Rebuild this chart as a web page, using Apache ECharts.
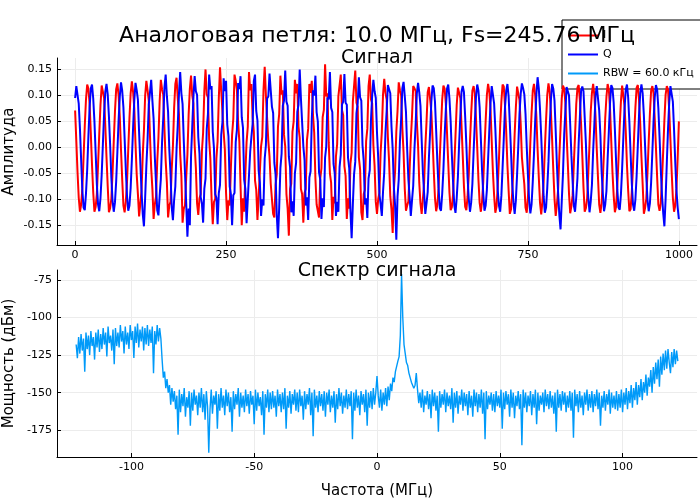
<!DOCTYPE html>
<html>
<head>
<meta charset="utf-8">
<title>Аналоговая петля</title>
<script src="https://cdn.jsdelivr.net/npm/echarts@6/dist/echarts.min.js"></script>
<style>
  html, body { margin: 0; padding: 0; background: #fff; }
  #chart { width: 700px; height: 500px; }
</style>
</head>
<body>
<div id="chart"></div>
<script>
// заголовки
const mainTitle = 'Аналоговая петля: 10.0 МГц, Fs=245.76 МГц';
const signalTitle = 'Сигнал';
const spectrumTitle = 'Спектр сигнала';
const seriesNames = ['I', 'Q', 'RBW = 60.0 кГц'];

// отсчёты сигнала, каждый второй отсчёт (0..1000)
const sampleStep = 2;

const iSignal = [
  0.071,0.012,-0.048,-0.097,-0.124,-0.110,-0.079,-0.019,0.041,0.092,
  0.121,0.113,0.084,0.027,-0.034,-0.087,-0.124,-0.115,-0.090,-0.034,
  0.026,0.081,0.119,0.116,0.095,0.041,-0.019,-0.075,-0.125,-0.117,
  -0.099,-0.049,0.011,0.069,0.112,0.123,0.100,0.059,-0.004,-0.062,
  -0.112,-0.125,-0.104,-0.066,-0.004,0.056,0.104,0.127,0.107,
  0.076,0.008,-0.052,-0.090,-0.133,-0.108,-0.084,-0.015,0.033,0.099,
  0.128,0.110,0.090,0.022,-0.040,-0.080,-0.138,-0.110,-0.095,-0.028,
  0.018,0.088,0.130,0.112,0.101,0.035,-0.026,-0.068,-0.135,-0.112,
  -0.105,-0.042,0.002,0.076,0.122,0.134,0.094,0.064,-0.012,-0.055,
  -0.145,-0.118,-0.112,-0.058,-0.014,0.062,0.112,0.138,0.100,
  0.084,0.004,-0.040,-0.108,-0.130,-0.098,-0.090,-0.008,0.028,0.108,
  0.150,0.102,0.096,0.015,-0.022,-0.098,-0.148,-0.105,-0.100,-0.022,
  0.012,0.095,0.154,0.108,0.106,0.030,-0.004,-0.088,-0.140,-0.102,
  -0.112,-0.040,0.024,0.055,0.140,0.128,0.110,0.048,0.012,-0.075,
  -0.150,-0.098,-0.124,-0.050,0.010,0.040,0.145,0.110,0.122,
  0.058,0.030,-0.064,-0.082,-0.140,-0.095,-0.098,0.002,0.020,0.110,
  0.155,0.100,0.100,0.012,-0.018,-0.070,
  -0.100,-0.128,-0.135,-0.072,-0.052,
  0.040,0.064,0.138,0.102,0.110,0.024,0.002,-0.090,-0.118,-0.170,
  -0.080,-0.070,0.030,0.050,0.130,0.104,0.122,0.040,0.018,-0.080,
  -0.090,-0.145,-0.088,-0.080,0.014,0.036,0.122,0.105,0.128,
  0.062,0.028,-0.060,-0.110,-0.108,-0.135,-0.060,-0.040,0.058,0.072,
  0.160,0.098,0.104,0.010,-0.050,-0.068,-0.140,-0.095,-0.108,-0.018,
  0.006,0.098,0.098,0.140,0.072,0.062,-0.036,-0.055,-0.138,-0.098,
  -0.118,-0.032,-0.010,0.088,0.090,0.148,0.086,0.078,-0.020,-0.042,
  -0.125,-0.140,-0.090,-0.082,0.012,0.036,0.118,0.140,0.092,
  0.085,0.004,-0.036,-0.105,-0.128,-0.100,-0.088,-0.010,0.030,0.102,
  0.132,0.105,0.092,0.020,-0.026,-0.094,-0.120,-0.165,-0.080,-0.045,
  0.030,0.070,0.125,0.110,0.100,0.036,-0.010,-0.080,-0.122,-0.112,
  -0.104,-0.044,0.015,0.060,0.118,0.114,0.108,0.050,0.004,-0.068,
  -0.108,-0.128,-0.100,-0.070,0.000,0.048,0.106,0.116,0.114,
  0.069,0.016,-0.044,-0.097,-0.123,-0.110,-0.079,-0.019,0.037,0.092,
  0.119,0.113,0.084,0.027,-0.030,-0.087,-0.121,-0.115,-0.090,-0.034,
  0.022,0.081,0.115,0.116,0.095,0.041,-0.015,-0.075,-0.114,-0.121,
  -0.095,-0.053,0.011,0.065,0.109,0.118,0.104,0.055,0.000,-0.062,
  -0.107,-0.124,-0.104,-0.066,-0.004,0.052,0.101,0.122,0.107,
  0.073,0.012,-0.048,-0.093,-0.126,-0.114,-0.075,-0.023,0.041,0.088,
  0.121,0.117,0.080,0.031,-0.034,-0.083,-0.128,-0.119,-0.086,-0.038,
  0.026,0.077,0.117,0.120,0.091,0.045,-0.019,-0.046,
  -0.071,-0.116,-0.126,
  -0.095,-0.053,0.011,0.065,0.109,0.122,0.100,0.059,-0.004,-0.058,
  -0.107,-0.129,-0.104,-0.066,-0.004,0.052,0.101,0.123,0.107,
  0.069,0.016,-0.044,-0.099,-0.132,-0.110,-0.081,-0.017,0.037,0.094,
  0.119,0.113,0.086,0.025,-0.030,-0.089,-0.127,-0.113,-0.092,-0.032,
  0.022,0.083,0.115,0.120,0.091,0.045,-0.015,-0.077,-0.124,-0.117,
  -0.099,-0.049,0.007,0.069,0.105,0.122,0.100,0.059,-0.004,-0.058,
  -0.110,-0.126,-0.108,-0.062,-0.008,0.056,0.097,0.122,0.111,
  0.073,0.012,-0.048,-0.093,-0.125,-0.114,-0.075,-0.023,0.041,0.088,
  0.119,0.117,0.080,0.031,-0.034,-0.083,-0.123,-0.119,-0.086,-0.038,
  0.026,0.077,0.115,0.120,0.091,0.045,-0.019,-0.071,-0.128,-0.117,
  -0.099,-0.049,0.011,0.065,0.109,0.118,0.104,0.055,0.000,-0.058,
  -0.110,-0.122,-0.108,-0.062,-0.008,0.052,0.101,0.118,0.111,
  0.071,0.014,-0.046,-0.097,-0.124,-0.112,-0.079,-0.021,0.050
];

const qSignal = [
  0.095,0.118,0.117,0.084,0.036,-0.025,-0.083,-0.116,-0.121,-0.089,
  -0.043,0.021,0.077,0.113,0.121,0.094,0.050,-0.010,-0.071,-0.110,
  -0.123,-0.098,-0.053,0.006,0.064,0.107,0.122,0.102,0.060,0.005,
  -0.058,-0.103,-0.124,-0.106,-0.066,-0.009,0.051,0.098,0.125,0.109,
  0.077,0.017,-0.044,-0.094,-0.122,-0.112,-0.078,-0.024,0.037,
  0.090,0.124,0.110,0.092,0.028,-0.030,-0.084,-0.128,-0.152,-0.097,
  -0.036,0.014,0.082,0.106,0.130,0.090,0.055,-0.018,-0.070,-0.121,
  -0.131,-0.094,-0.061,0.010,0.057,0.116,0.140,0.098,0.068,-0.004,
  -0.050,-0.115,-0.140,-0.101,-0.075,-0.004,0.043,0.103,0.145,0.104,
  0.083,0.012,-0.050,-0.108,-0.172,-0.118,-0.150,-0.018,0.040,
  0.098,0.137,0.108,0.101,0.020,-0.012,-0.096,-0.108,-0.145,-0.080,
  -0.060,0.035,0.064,0.140,0.112,0.118,0.030,-0.002,-0.090,-0.097,
  -0.148,-0.088,-0.072,0.024,0.048,0.133,0.108,0.128,0.044,0.021,
  -0.075,-0.090,-0.150,-0.092,-0.088,0.010,0.034,0.124,0.112,0.137,
  0.058,0.038,-0.062,-0.080,-0.146,-0.100,-0.098,-0.008,0.020,
  0.045,0.128,0.140,0.070,0.052,-0.045,-0.068,-0.132,-0.100,-0.112,
  -0.022,0.004,0.094,0.098,0.142,0.110,
  0.078,0.066,-0.030,-0.052,-0.130,
  -0.175,-0.116,-0.040,-0.012,0.080,0.090,0.148,0.088,0.080,-0.018,
  -0.038,-0.125,-0.104,-0.132,-0.050,-0.030,0.068,0.082,0.150,0.094,
  0.092,0.002,-0.024,-0.112,-0.096,-0.140,-0.058,-0.046,0.054,
  0.110,0.100,0.138,0.068,0.050,-0.048,-0.062,-0.138,-0.098,-0.115,
  -0.020,0.002,0.096,0.092,0.145,0.076,0.068,-0.032,-0.050,-0.132,
  -0.105,-0.124,-0.038,-0.014,0.082,0.088,0.141,0.086,0.082,-0.020,
  -0.040,-0.122,-0.175,-0.110,-0.052,-0.028,0.066,0.084,0.135,0.096,
  0.090,0.004,-0.026,-0.110,-0.098,-0.136,-0.060,-0.044,0.052,
  0.100,0.130,0.108,0.095,0.028,-0.020,-0.090,-0.110,-0.132,-0.085,
  -0.048,0.028,0.070,0.120,0.112,0.104,0.040,-0.004,-0.078,-0.112,
  -0.178,-0.095,-0.062,0.012,0.055,0.114,0.126,0.098,0.068,-0.004,
  -0.062,-0.095,-0.132,-0.102,-0.074,-0.004,0.044,0.104,0.124,0.106,
  0.080,0.014,-0.048,-0.088,-0.128,-0.108,-0.086,-0.020,0.030,
  0.088,0.119,0.114,0.088,0.032,-0.029,-0.079,-0.117,-0.122,-0.089,
  -0.043,0.021,0.073,0.113,0.121,0.094,0.050,-0.014,-0.067,-0.111,
  -0.126,-0.098,-0.057,0.006,0.060,0.107,0.118,0.106,0.060,0.005,
  -0.058,-0.099,-0.124,-0.106,-0.070,-0.009,0.047,0.098,0.121,0.109,
  0.077,0.017,-0.044,-0.090,-0.122,-0.112,-0.082,-0.024,0.033,
  0.084,0.118,0.119,0.084,0.036,-0.025,-0.083,-0.112,-0.124,-0.093,
  -0.039,0.017,0.077,0.109,0.122,0.098,0.046,-0.010,-0.071,-0.106,
  -0.128,-0.102,-0.053,0.002,0.064,0.103,0.123,0.114,
  0.102,0.064,0.001,
  -0.054,-0.103,-0.127,-0.110,-0.066,-0.013,0.051,0.102,0.135,0.113,
  0.073,0.021,-0.040,-0.094,-0.126,-0.116,-0.078,-0.028,0.037,
  0.090,0.122,0.113,0.090,0.030,-0.035,-0.088,-0.130,-0.158,-0.104,
  -0.052,0.024,0.070,0.116,0.117,0.100,0.044,-0.016,-0.066,-0.112,
  -0.124,-0.096,-0.059,0.008,0.058,0.109,0.117,0.108,0.058,0.007,
  -0.060,-0.097,-0.125,-0.104,-0.072,-0.007,0.045,0.100,0.118,0.115,
  0.071,0.023,-0.046,-0.088,-0.123,-0.110,-0.084,-0.022,0.031,
  0.086,0.120,0.114,0.086,0.034,-0.027,-0.081,-0.116,-0.120,-0.091,
  -0.041,0.019,0.075,0.111,0.121,0.096,0.048,-0.012,-0.069,-0.110,
  -0.122,-0.100,-0.055,0.004,0.062,0.105,0.121,0.104,0.062,0.003,
  -0.056,-0.101,-0.123,-0.108,-0.068,-0.011,0.049,0.096,0.120,0.111,
  0.075,0.019,-0.042,-0.092,-0.126,-0.152,-0.100,-0.030,0.035,
  0.086,0.118,0.116,0.088,0.034,-0.029,-0.083,-0.116,-0.138
];

// спектр: частоты от -122.5 МГц с шагом 0.5 МГц, мощность в дБм
const freqStart = -122.5;
const freqStep = 0.5;
const spectrumDbm = [
  -118,-127,-113,-124,-111,-122,-114,-136,-110,-121,-112,-125,-109,-119,-113,-128,-110,-120,-108,-123,
  -111,-121,-107,-118,-110,-126,-106,-117,-112,-122,-108,-131,-107,-119,-110,-120,-105,-116,-109,-124,
  -106,-118,-110,-121,-105,-115,-109,-127,-106,-117,-104,-120,-108,-116,-106,-122,-107,-118,-105,-119,
  -108,-117,-106,-137,-109,-118,-105,-116,-107,-114,
  -128,-140,-136,-147,-141,-150,-145,-158,-147,-156,
  -149,-161,-152,-178,-148,-163,-151,-159,-147,-166,-153,-160,-149,-172,-150,-162,-148,-158,-152,-165,
  -150,-160,-147,-163,-151,-168,-149,-159,-190,-161,-148,-164,-152,-158,-149,-174,-151,-162,-147,-160,
  -152,-165,-148,-159,-150,-163,-153,-176,-149,-161,-151,-158,-147,-166,-150,-160,-152,-163,-148,-159,
  -151,-164,-149,-158,-152,-171,-148,-162,-150,-159,-153,-165,-149,-178,-151,-160,-148,-163,-150,-161,
  -149,-160,-152,-166,-148,-159,-151,-163,-150,-161,-147,-174,-152,-160,-149,-164,-151,-158,-148,-162,
  -150,-163,-148,-159,-152,-168,-149,-161,-151,-158,-147,-165,-150,-179,-148,-160,-152,-163,-149,-159,
  -151,-162,-149,-166,-150,-158,-148,-163,-152,-160,-149,-170,-151,-161,-147,-159,-150,-164,-152,-160,
  -148,-161,-151,-159,-149,-181,-150,-162,-148,-160,-152,-165,-149,-158,-151,-163,-148,-172,-150,-160,
  -149,-161,-147,-158,-150,-139,-152,-160,-148,-162,-150,-158,-147,-159,-146,-155,-144,-149,-140,-143,
  -136,-137,-129,-126,-112,-71,-100,-118,-124,-130,-132,-137,-138,-143,-142,-147,-145,-137,-148,-157,
  -150,-160,-148,-163,-152,-158,-149,-161,-151,-167,-148,-159,-150,-162,-152,-176,-149,-160,-151,-158,
  -148,-163,-150,-159,-152,-161,-147,-170,-150,-160,-149,-164,-152,-158,-148,-162,-150,-159,-151,-165,
  -149,-160,-152,-166,-148,-159,-150,-163,-151,-160,-148,-164,-150,-181,-149,-161,-152,-158,-150,-162,
  -151,-163,-149,-159,-152,-160,-148,-174,-150,-161,-149,-158,-151,-166,-148,-160,-150,-167,-152,-159,
  -149,-161,-151,-185,-148,-160,-150,-163,-152,-159,-149,-165,-151,-160,-148,-171,-150,-162,-152,-158,
  -150,-163,-148,-159,-151,-161,-149,-160,-152,-164,-150,-176,-148,-160,-151,-162,-149,-158,-150,-163,
  -152,-160,-149,-162,-150,-180,-148,-159,-151,-163,-149,-160,-152,-165,-150,-158,-148,-162,-151,-160,
  -149,-163,-151,-159,-148,-161,-150,-172,-152,-160,-149,-162,-151,-158,-148,-164,-150,-160,-152,-161,
  -149,-162,-151,-160,-148,-163,-150,-158,-147,-161,-149,-157,-145,-160,-147,-155,-143,-158,-145,-153,
  -141,-155,-143,-150,-138,-152,-140,-146,-135,-150,-133,-144,-130,-141,-128,-146,-126,-138,-124,-135,
  -122,-134,-121,-130,-137,-123,-133,-121,-131,-122,-129
];

// деления осей
const signalTicksX = [0, 250, 500, 750, 1000];
const signalTicksY = [-0.15, -0.10, -0.05, 0.00, 0.05, 0.10, 0.15];
const freqTicks = [-100, -50, 0, 50, 100];
const powerTicks = [-175, -150, -125, -100, -75];

const font = 'DejaVu Sans';
const chart = echarts.init(document.getElementById('chart'));

function makeAxis(gridIndex, min, max, ticks, fmt, name, nameGap) {
  return {
    type: 'value',
    gridIndex: gridIndex,
    min: min,
    max: max,
    name: name,
    nameLocation: 'middle',
    nameGap: nameGap,
    nameMoveOverlap: false,
    nameTextStyle: { fontFamily: font, fontSize: 15, color: '#000' },
    axisLine: { show: true, onZero: false, lineStyle: { color: '#000', width: 1 } },
    axisTick: { show: true, inside: true, length: 4, customValues: ticks, lineStyle: { color: '#000' } },
    axisLabel: { customValues: ticks, formatter: fmt, fontFamily: font, fontSize: 11, color: '#000', margin: 5 },
    splitLine: { show: true, lineStyle: { color: '#ececec', width: 1 } }
  };
}

const titleStyle = (size) => ({ fontFamily: font, fontSize: size, fontWeight: 'normal', color: '#000' });

const option = {
  animation: false,
  backgroundColor: '#fff',
  title: [
    { text: mainTitle, left: 377, top: 25, textAlign: 'center', padding: 0, z: 10, textStyle: titleStyle(22) },
    { text: signalTitle, left: 377, top: 49, textAlign: 'center', padding: 0, z: 10, textStyle: titleStyle(19) },
    { text: spectrumTitle, left: 377, top: 262, textAlign: 'center', padding: 0, z: 10, textStyle: titleStyle(19) }
  ],
  legend: {
    data: seriesNames,
    orient: 'vertical',
    left: 562,
    top: 20,
    z: 1,
    padding: [10, 8, 10, 6],
    itemGap: 8,
    itemWidth: 30,
    itemHeight: 2,
    icon: 'rect',
    backgroundColor: '#fff',
    borderColor: '#000',
    borderWidth: 1,
    borderRadius: 0,
    textStyle: { fontFamily: font, fontSize: 11, color: '#000' }
  },
  grid: [
    { left: 57, top: 58, width: 640, height: 187, outerBoundsMode: 'none' },
    { left: 57, top: 270, width: 640, height: 187, outerBoundsMode: 'none' }
  ],
  xAxis: [
    makeAxis(0, -30, 1030, signalTicksX, v => String(v), '', 0),
    makeAxis(1, -130.3, 130.3, freqTicks, v => String(v), 'Частота (МГц)', 27)
  ],
  yAxis: [
    makeAxis(0, -0.188, 0.172, signalTicksY, v => v.toFixed(2), 'Амплитуда', 40),
    makeAxis(1, -192.8, -68.4, powerTicks, v => String(v), 'Мощность (дБм)', 40)
  ],
  series: [
    {
      name: seriesNames[0], type: 'line', xAxisIndex: 0, yAxisIndex: 0,
      data: iSignal.map((v, k) => [k * sampleStep, v]),
      showSymbol: false, symbol: 'none',
      lineStyle: { color: '#ff0000', width: 2 }, itemStyle: { color: '#ff0000' }
    },
    {
      name: seriesNames[1], type: 'line', xAxisIndex: 0, yAxisIndex: 0,
      data: qSignal.map((v, k) => [k * sampleStep, v]),
      showSymbol: false, symbol: 'none',
      lineStyle: { color: '#0000ff', width: 2 }, itemStyle: { color: '#0000ff' }
    },
    {
      name: seriesNames[2], type: 'line', xAxisIndex: 1, yAxisIndex: 1,
      data: spectrumDbm.map((v, k) => [freqStart + k * freqStep, v]),
      showSymbol: false, symbol: 'none',
      lineStyle: { color: '#009af9', width: 1.4 }, itemStyle: { color: '#009af9' }
    }
  ]
};

chart.setOption(option);
</script>
</body>
</html>
